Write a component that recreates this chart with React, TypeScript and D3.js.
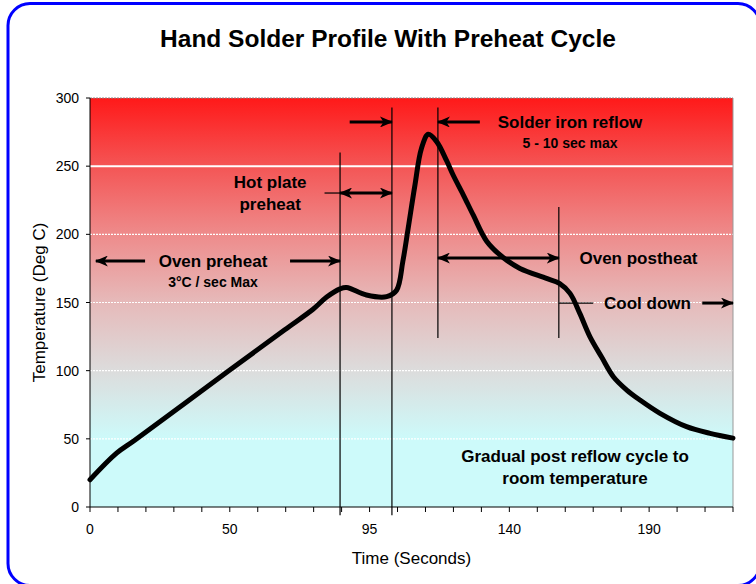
import React from "react";
import * as d3 from "d3";

// solder profile (time s, temperature deg C)
const times = [0, 9.5, 16, 50, 67.7, 76.8, 81.2, 85.5, 87.6, 94, 100.5, 103.7, 105.7, 107.4, 109.6, 111.7, 113.9, 116.6, 119.8, 121.9, 125.2, 128.4, 132.7, 138, 143.8, 153.3, 157.9, 161.7, 165.2, 168.8, 173, 177.2, 182, 186.7, 193.9, 203.4, 211.8, 220];
const temps = [20, 39.5, 49, 100.5, 130, 145, 154, 160, 161, 155.5, 154.3, 159, 180, 204, 236, 263, 273.4, 268, 254, 243.5, 228.8, 214, 195, 183, 175, 167.7, 164, 156.7, 142, 125, 110, 95.6, 85.8, 78.5, 68.7, 58.9, 54, 50.5];

// category axis of the original: one tick per sample column
const tickTimes = [0, 10, 20, 30, 40, 50, 59, 68, 77, 86, 95, 104, 113, 122, 131, 140, 150, 160, 170, 180, 190, 200, 210, 220];
const tickLabels = [0, 50, 95, 140, 190];
const tempTicks = [0, 50, 100, 150, 200, 250, 300];

// phase markers: time, top temp, bottom temp
const markerTimes = [85.5, 102.2, 117, 157.7];
const markerTops = [260, 293, 293, 220];
const markerBottoms = [-6, -6, 124, 124];

// arrows: [t1, temp1, t2, temp2, heads]
const arrows: [number, number, number, number, string][] = [
  [19.7, 180.4, 2.1, 180.4, "end"],
  [69.4, 180.4, 85.5, 180.4, "end"],
  [80.5, 230.3, 85.5, 230.3, "none"],
  [85.5, 230.3, 102.2, 230.3, "both"],
  [88.6, 282.4, 102.2, 282.4, "end"],
  [130.5, 282.4, 117, 282.4, "end"],
  [117, 182.6, 157.7, 182.6, "both"],
  [157.7, 149.6, 170, 149.6, "none"],
  [209, 149.6, 220, 149.6, "end"],
];

const labelTexts = ["Oven preheat", "3°C / sec Max", "Hot plate", "preheat", "Solder iron reflow", "5 - 10 sec max", "Oven postheat", "Cool down", "Gradual post reflow cycle to", "room temperature"];
const labelTimes = [44, 44, 63, 63, 161.7, 161.7, 186.2, 189.4, 163.5, 163.5];
const labelTemps = [180.4, 165, 238.5, 222.5, 282.4, 267, 182.6, 149.6, 37.4, 21.3];
const labelSizes = [17, 14, 17, 17, 17, 14, 17, 17, 17, 17];

const W = 756;
const H = 584;
const margin = { top: 98, right: 23, bottom: 77, left: 90 };

export default function App() {
  const x0 = margin.left;
  const x1 = W - margin.right;
  const u = (x1 - x0) / 23;
  const x = d3
    .scaleLinear()
    .domain([0, 50, 95, 140, 220])
    .range([x0, x0 + 5 * u, x0 + 10 * u, x0 + 15 * u, x1]);
  const y = d3.scaleLinear().domain([0, 300]).range([H - margin.bottom, margin.top]);

  const data = times.map((t, i) => [t, temps[i]] as [number, number]);
  const line = d3
    .line<[number, number]>()
    .x((d) => x(d[0]))
    .y((d) => y(d[1]))
    .curve(d3.curveCatmullRom.alpha(0.5));

  const font = "'Liberation Sans', Arial, sans-serif";

  return (
    <div style={{ position: "absolute", left: 0, top: 0 }}>
      <svg width={W} height={H} style={{ display: "block", fontFamily: font }}>
        <defs>
          <linearGradient id="bg" gradientUnits="userSpaceOnUse" x1={0} x2={0} y1={y(300)} y2={y(50)}>
            <stop offset="0" stopColor="#ff1919" />
            <stop offset="0.2" stopColor="#f45555" />
            <stop offset="0.4" stopColor="#ee8b8b" />
            <stop offset="0.6" stopColor="#e6baba" />
            <stop offset="0.8" stopColor="#dcdcdc" />
            <stop offset="1" stopColor="#cdfafa" />
          </linearGradient>
          <marker id="ah" viewBox="0 0 13 11" refX={12} refY={5.5} markerWidth={13} markerHeight={11} markerUnits="userSpaceOnUse" orient="auto-start-reverse">
            <path d="M0,0 L13,5.5 L0,11 L3.5,5.5 z" fill="#000" />
          </marker>
        </defs>
        <rect x={0} y={0} width={W} height={H} fill="#fff" />
        <rect x={8} y={3.5} width={752} height={582} rx={22} ry={22} fill="#fff" stroke="#0000ff" strokeWidth={3} />

        <text x={388} y={47} textAnchor="middle" fontSize={24.5} fontWeight="bold">
          Hand Solder Profile With Preheat Cycle
        </text>

        {/* plot area */}
        <rect x={x0} y={y(300)} width={x1 - x0} height={y(0) - y(300)} fill="url(#bg)" />
        {tempTicks.slice(1, 6).map((v) => (
          <line
            key={v}
            x1={x0}
            x2={x1}
            y1={y(v)}
            y2={y(v)}
            stroke="#fff"
            strokeWidth={v === 250 ? 2 : 1.2}
            strokeDasharray={v === 250 ? undefined : "2,1"}
          />
        ))}
        <line x1={x0} x2={x1} y1={y(300)} y2={y(300)} stroke="#888" strokeWidth={1} strokeDasharray="2,1" />
        <line x1={x1} x2={x1} y1={y(300)} y2={y(0)} stroke="#999" strokeWidth={1} />

        {/* axes */}
        <line x1={x0} x2={x1} y1={y(0)} y2={y(0)} stroke="#000" />
        <line x1={x0} x2={x0} y1={y(0)} y2={y(300)} stroke="#000" />
        {tickTimes.map((t) => (
          <line key={t} x1={x(t)} x2={x(t)} y1={y(0)} y2={y(0) + 5} stroke="#000" />
        ))}
        {tickLabels.map((t) => (
          <text key={t} x={x(t)} y={y(0) + 27} textAnchor="middle" fontSize={14}>
            {t}
          </text>
        ))}
        {tempTicks.map((v) => (
          <g key={v}>
            <line x1={x0 - 4} x2={x0} y1={y(v)} y2={y(v)} stroke="#000" />
            <text x={x0 - 11} y={y(v) + 5} textAnchor="end" fontSize={14}>
              {v}
            </text>
          </g>
        ))}
        <text x={(x0 + x1) / 2} y={564} textAnchor="middle" fontSize={17}>
          Time (Seconds)
        </text>
        <text transform={`translate(45,${(y(0) + y(300)) / 2}) rotate(-90)`} textAnchor="middle" fontSize={17}>
          Temperature (Deg C)
        </text>

        {/* phase markers */}
        {markerTimes.map((t, i) => (
          <line key={t} x1={x(t)} x2={x(t)} y1={y(markerTops[i])} y2={y(markerBottoms[i])} stroke="#000" strokeWidth={1.2} />
        ))}

        {/* profile */}
        <path d={line(data) ?? ""} fill="none" stroke="#000" strokeWidth={5} strokeLinejoin="round" strokeLinecap="round" />

        {/* arrows */}
        {arrows.map(([ta, va, tb, vb, heads], i) => (
          <line
            key={i}
            x1={x(ta)}
            y1={y(va)}
            x2={x(tb)}
            y2={y(vb)}
            stroke="#000"
            strokeWidth={heads === "none" ? 1.2 : 3}
            markerEnd={heads !== "none" ? "url(#ah)" : undefined}
            markerStart={heads === "both" ? "url(#ah)" : undefined}
          />
        ))}

        {labelTexts.map((s, i) => (
          <text
            key={s}
            x={x(labelTimes[i])}
            y={y(labelTemps[i])}
            dy="0.35em"
            textAnchor="middle"
            fontSize={labelSizes[i]}
            fontWeight="bold"
          >
            {s}
          </text>
        ))}
      </svg>
    </div>
  );
}
